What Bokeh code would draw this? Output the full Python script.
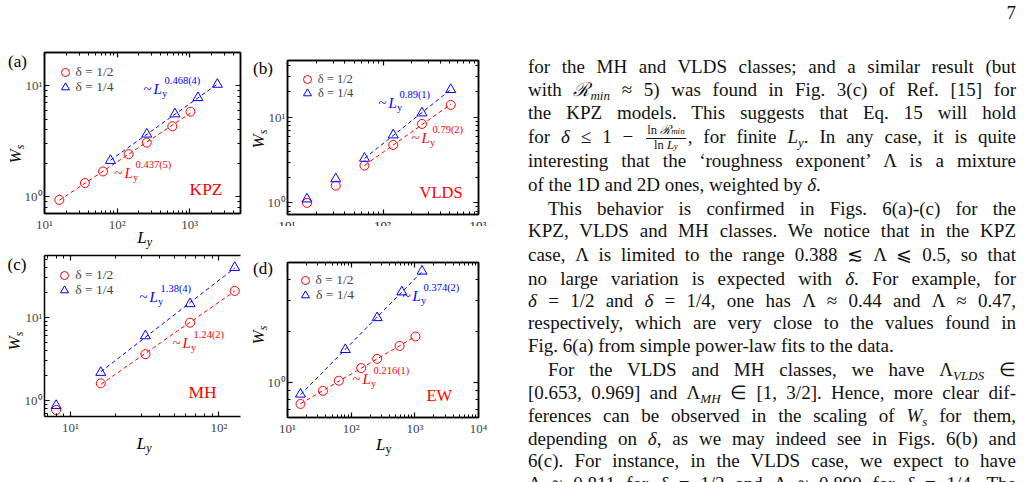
import numpy as np
from bokeh.plotting import figure
from bokeh.models import Range1d, LogAxis, FixedTicker, Label, Legend, LegendItem, Div
from bokeh.layouts import row, column
from bokeh.embed import file_html
from bokeh.resources import INLINE

SERIF = "Liberation Serif"
RED = "#ff0000"
BLUE = "#0000ff"

# ---------------- saturated roughness W_s versus L_y ----------------
# (a) KPZ
kpz_L_half = [16, 36, 64, 144, 256, 576, 1024]
kpz_W_half = [0.93, 1.32, 1.68, 2.41, 3.06, 4.30, 5.83]
kpz_L_quarter = [81, 256, 625, 1296, 2401]
kpz_W_quarter = [2.11, 3.65, 5.56, 7.80, 10.3]
kpz_exp_half, kpz_exp_quarter = "0.437(5)", "0.468(4)"

# (b) VLDS
vlds_L = [16, 32, 64, 128, 256, 512]
vlds_W_half = [1.0, 1.59, 2.73, 4.75, 8.35, 13.9]
vlds_W_quarter = [1.11, 1.91, 3.31, 6.2, 11.2, 21.0]
vlds_exp_half, vlds_exp_quarter = "0.79(2)", "0.89(1)"

# (c) MH
mh_L = [8, 16, 32, 64, 128]
mh_W_half = [0.77, 1.61, 3.6, 8.6, 20.7]
mh_W_quarter = [0.87, 2.17, 5.97, 14.5, 39.5]
mh_exp_half, mh_exp_quarter = "1.24(2)", "1.38(4)"

# (d) EW
ew_L_half = [16, 36, 64, 144, 256, 576, 1024]
ew_W_half = [0.755, 0.90, 1.03, 1.22, 1.38, 1.64, 1.86]
ew_L_quarter = [16, 81, 256, 625, 1296]
ew_W_quarter = [0.86, 1.56, 2.39, 3.37, 4.45]
ew_exp_half, ew_exp_quarter = "0.216(1)", "0.374(2)"

legend_labels = ["δ = 1/2", "δ = 1/4"]

SUP = str.maketrans("0123456789-", "⁰¹²³⁴⁵⁶⁷⁸⁹⁻")
DECADES = [10.0 ** k for k in range(-1, 5)]
MINOR = [m * 10.0 ** k for k in range(-1, 5) for m in range(2, 10)]


def decade_label(v):
    return "10" + str(int(round(np.log10(v)))).translate(SUP)


def style_axis(ax, show, standoff=3):
    ax.ticker = FixedTicker(ticks=DECADES, minor_ticks=MINOR)
    ax.axis_line_width = 1.5
    ax.axis_line_color = "black"
    ax.major_tick_in, ax.major_tick_out = 5, 0
    ax.minor_tick_in, ax.minor_tick_out = 3, 0
    ax.major_tick_line_width = 1.2
    ax.minor_tick_line_width = 1
    ax.major_label_overrides = {v: decade_label(v) for v in DECADES}
    ax.major_label_text_font = SERIF
    if show:
        ax.major_label_text_font_size = "13px"
        ax.major_label_standoff = standoff
    else:
        ax.major_label_text_font_size = "1px"
        ax.major_label_text_alpha = 0
        ax.major_label_standoff = 0


def make_panel(width, height, borders, x_range, y_range, right_side=True, x_labels=True):
    bl, br, bt, bb = borders
    p = figure(width=width, height=height, x_axis_type="log", y_axis_type="log",
               x_range=Range1d(*x_range), y_range=Range1d(*y_range),
               output_backend="svg", toolbar_location=None,
               min_border_left=bl, min_border_right=br,
               min_border_top=bt, min_border_bottom=bb)
    p.grid.visible = False
    p.background_fill_color = "white"
    p.border_fill_color = "white"
    p.outline_line_color = "black" if right_side else None
    p.outline_line_width = 1.5
    style_axis(p.below[0], x_labels, standoff=3)
    style_axis(p.left[0], True, standoff=2)
    top = LogAxis()
    p.add_layout(top, "above")
    style_axis(top, False)
    if right_side:
        right = LogAxis()
        p.add_layout(right, "right")
        style_axis(right, False)
    return p


def put(p, frame, px, py, text, size, color="black", style="normal"):
    fl, fb = frame
    p.add_layout(Label(x=px - fl, y=fb - py, x_units="screen", y_units="screen",
                       text=text, text_font=SERIF, text_font_size=f"{size}px",
                       text_color=color, text_font_style=style))


def power_label(p, frame, px, py, exponent, color):
    put(p, frame, px, py, "~", 15, color)
    put(p, frame, px + 10, py, "L", 15, color, "italic")
    put(p, frame, px + 18.5, py + 2.5, "y", 10.5, color)
    put(p, frame, px + 21, py - 11, exponent, 10.5, color)


def series(p, L, W, color, marker, size):
    return p.scatter(L, W, marker=marker, size=size, line_color=color,
                     fill_color=None, line_width=1)


def fit_line(p, L, W, exponent, color, start=0):
    e = float(exponent.split("(")[0])
    Lf = np.asarray(L[start:], float)
    Wf = np.asarray(W[start:], float)
    c = np.mean(np.log10(Wf) - e * np.log10(Lf))
    xs = np.array([Lf[0], Lf[-1]])
    p.line(xs, 10 ** c * xs ** e, line_color=color, line_dash="4 3", line_width=1)


def add_legend(p, frame, renderers, centers, size):
    # one single-row legend per entry, so the row pitch is set by its position
    fl, fb = frame
    for text, r, (cx, cy) in zip(legend_labels, renderers, centers):
        lg = Legend(items=[LegendItem(label=text, renderers=[r])],
                    location=(cx - 10 - fl, fb - cy - 10), glyph_width=20, glyph_height=20,
                    spacing=0, padding=0, margin=0, label_standoff=1, label_height=20,
                    label_text_font=SERIF, label_text_font_size=f"{size}px",
                    border_line_color=None, background_fill_alpha=0)
        p.add_layout(lg)


# ---------------- (a) KPZ ----------------
FA = (44, 213)
pa = make_panel(250, 248, (44, 7, 52, 35), (10, 5000), (0.7, 20))
fit_line(pa, kpz_L_half, kpz_W_half, kpz_exp_half, RED)
fit_line(pa, kpz_L_quarter, kpz_W_quarter, kpz_exp_quarter, BLUE)
ra1 = series(pa, kpz_L_half, kpz_W_half, RED, "circle", 9)
ra2 = series(pa, kpz_L_quarter, kpz_W_quarter, BLUE, "triangle", 10)
add_legend(pa, FA, [ra1, ra2], [(64.5, 71.5), (64.5, 86.5)], 13.5)
put(pa, FA, 189, 198.5, "KPZ", 17.5, RED)
power_label(pa, FA, 143, 96, kpz_exp_quarter, BLUE)
power_label(pa, FA, 114, 180, kpz_exp_half, RED)

# ---------------- (b) VLDS ----------------
FB = (287, 214)
pb = make_panel(270, 225, (37, 42, 60, 11), (10, 1000), (0.733, 45.9), x_labels=False)
fit_line(pb, vlds_L, vlds_W_half, vlds_exp_half, RED, start=2)
fit_line(pb, vlds_L, vlds_W_quarter, vlds_exp_quarter, BLUE, start=2)
rb1 = series(pb, vlds_L, vlds_W_half, RED, "circle", 9)
rb2 = series(pb, vlds_L, vlds_W_quarter, BLUE, "triangle", 10)
add_legend(pb, FB, [rb1, rb2], [(306.7, 79), (307, 93)], 12.5)
put(pb, FB, 419, 201.5, "VLDS", 16.5, RED)
power_label(pb, FB, 378, 110, vlds_exp_quarter, BLUE)
power_label(pb, FB, 411, 145, vlds_exp_half, RED)

# ---------------- (c) MH ----------------
FC = (44, 416)
pc = make_panel(250, 234, (44, 10, 7, 66), (6.68, 140), (0.643, 55.1), right_side=False)
fit_line(pc, mh_L, mh_W_half, mh_exp_half, RED, start=1)
fit_line(pc, mh_L, mh_W_quarter, mh_exp_quarter, BLUE, start=1)
rc1 = series(pc, mh_L, mh_W_half, RED, "circle", 9)
rc2 = series(pc, mh_L, mh_W_quarter, BLUE, "triangle", 10)
add_legend(pc, FC, [rc1, rc2], [(64.3, 274.5), (64.3, 289.5)], 13.5)
put(pc, FC, 188, 401.7, "MH", 17.5, RED)
power_label(pc, FC, 139, 304, mh_exp_quarter, BLUE)
power_label(pc, FC, 172, 350, mh_exp_half, RED)

# ---------------- (d) EW ----------------
FD = (287, 417)
pd_ = make_panel(270, 257, (37, 42, 37, 65), (10, 10000), (0.63, 5.0))
fit_line(pd_, ew_L_half, ew_W_half, ew_exp_half, RED)
fit_line(pd_, ew_L_quarter, ew_W_quarter, ew_exp_quarter, BLUE)
rd1 = series(pd_, ew_L_half, ew_W_half, RED, "circle", 9)
rd2 = series(pd_, ew_L_quarter, ew_W_quarter, BLUE, "triangle", 10)
add_legend(pd_, FD, [rd1, rd2], [(304.5, 279.5), (305, 294.5)], 13.5)
put(pd_, FD, 426, 404, "EW", 16.5, RED)
power_label(pd_, FD, 402, 303, ew_exp_quarter, BLUE)
power_label(pd_, FD, 352, 386, ew_exp_half, RED)

# ---------------- panel captions and axis titles (HTML layer over the panels) ----------------
COL_X = 520          # left edge of the text column on the page
ASC = 0.8375         # baseline position of Liberation Serif in a line-height:1 box


def tag(px, baseline, html, size, color="#000"):
    return (f'<div style="position:absolute;left:{px - COL_X:.1f}px;top:{baseline - ASC * size:.1f}px;'
            f'font-size:{size}px;line-height:1;white-space:nowrap;color:{color}">{html}</div>')


def vtag(cx, cy, html, size):
    return (f'<div style="position:absolute;left:{cx - COL_X:.1f}px;top:{cy:.1f}px;font-size:{size}px;'
            f'line-height:1;white-space:nowrap;transform:translate(-50%,-50%) rotate(-90deg)">{html}</div>')


W_S = '<i>W</i><sub style="font-size:12px;vertical-align:-3px;line-height:0"><i>s</i></sub>'


def l_y(italic=True):
    y = "<i>y</i>" if italic else "y"
    return f'<i>L</i><sub style="font-size:12px;vertical-align:-3px;line-height:0">{y}</sub>'


overlay = [
    tag(8, 67, "(a)", 17), tag(253, 74, "(b)", 17),
    tag(7.5, 270.5, "(c)", 17), tag(253, 274.5, "(d)", 17),
    vtag(15, 153.5, W_S, 17), vtag(258, 138.5, W_S, 17),
    vtag(14, 340.5, W_S, 17), vtag(257.5, 335, W_S, 17),
    tag(137.3, 243.3, l_y(), 17), tag(136.7, 449, l_y(), 17),
    tag(376, 450, l_y(False), 17),
]
# bottom tick labels of (b), cut by the top of panel (d)
b_ticks = "".join(
    f'<div style="position:absolute;left:{x - 250}px;top:219px;font-size:13px;line-height:1;'
    f'transform:translateX(-50%);white-space:nowrap">{decade_label(v)}</div>'
    for x, v in [(287, 10.0), (382.5, 100.0), (478, 1000.0)])
overlay.append(f'<div style="position:absolute;left:{250 - COL_X}px;top:0;width:270px;height:226px;'
               f'overflow:hidden">{b_ticks}</div>')

# ---------------- text column ----------------
def sub(t):
    return f'<sub style="font-size:13px;vertical-align:-4px;line-height:0;font-style:italic">{t}</sub>'


frac = ('<span style="display:inline-block;vertical-align:-6px;text-align:center;'
        'text-align-last:center;font-size:12.5px;line-height:11px;margin:0 2px">'
        '<span style="display:block;border-bottom:1px solid #111;padding:0 1px 1px">ln <i>ℛ</i>'
        '<span style="font-size:9px;font-style:italic">min</span></span>'
        '<span style="display:block;padding-top:1px">ln <i>L</i><span style="font-size:9px;font-style:italic">y</span></span>'
        '</span>')

text_lines = [
    (66.7, 0, True, "for the MH and VLDS classes; and a similar result (but"),
    (89.3, 0, True, f"with <i>ℛ</i>{sub('min')} ≈ 5) was found in Fig. 3(c) of Ref. [15] for"),
    (112.7, 0, True, "the KPZ models. This suggests that Eq. 15 will hold"),
    (136.0, 0, True, f"for <i>δ</i> ≤ 1 − {frac}, for finite <i>L</i>{sub('y')}. In any case, it is quite"),
    (160.7, 0, True, "interesting that the ‘roughness exponent’ Λ is a mixture"),
    (184.0, 0, False, "of the 1D and 2D ones, weighted by <i>δ</i>."),
    (208.3, 20, True, "This behavior is confirmed in Figs. 6(a)-(c) for the"),
    (230.7, 0, True, "KPZ, VLDS and MH classes. We notice that in the KPZ"),
    (254.0, 0, True, "case, Λ is limited to the range 0.388 ≲ Λ ⩽ 0.5, so that"),
    (278.3, 0, True, "no large variation is expected with <i>δ</i>. For example, for"),
    (300.0, 0, True, "<i>δ</i> = 1/2 and <i>δ</i> = 1/4, one has Λ ≈ 0.44 and Λ ≈ 0.47,"),
    (322.7, 0, True, "respectively, which are very close to the values found in"),
    (345.0, 0, False, "Fig. 6(a) from simple power-law fits to the data."),
    (369.3, 20, True, f"For the VLDS and MH classes, we have Λ{sub('VLDS')} ∈"),
    (392.7, 0, True, f"[0.653, 0.969] and Λ{sub('MH')} ∈ [1, 3/2]. Hence, more clear dif-"),
    (415.7, 0, True, f"ferences can be observed in the scaling of <i>W</i>{sub('s')} for them,"),
    (438.3, 0, True, "depending on <i>δ</i>, as we may indeed see in Figs. 6(b) and"),
    (460.7, 0, True, "6(c). For instance, in the VLDS case, we expect to have"),
    (483.0, 0, True, "Λ ≈ 0.811 for <i>δ</i> = 1/2 and Λ ≈ 0.890 for <i>δ</i> = 1/4. The"),
]

parts = []
for y, indent, justify, html in text_lines:
    align = "justify" if justify else "left"
    parts.append(
        f'<div style="position:absolute;left:{8 + indent}px;width:{488 - indent}px;'
        f'top:{y - 11.5:.1f}px;height:23px;line-height:23px;text-align:{align};'
        f'text-align-last:{align};white-space:normal">{html}</div>')
parts.append('<div style="position:absolute;right:8px;top:1px;line-height:23px">7</div>')

page = (f'<div style="position:relative;width:504px;height:482px;font-family:\'{SERIF}\',serif;color:#111">'
        '<div style="position:absolute;left:0;top:0;width:504px;height:482px;overflow:hidden;font-size:19px">'
        + "".join(parts) + "</div>"
        + "".join(overlay) + "</div>")
text_col = Div(text=page, width=504, height=482, margin=0)

layout = row(column(pa, pc), column(pb, pd_), text_col)

with open("out.html", "w") as f:
    f.write(file_html(layout, INLINE, title="Ws scaling"))
